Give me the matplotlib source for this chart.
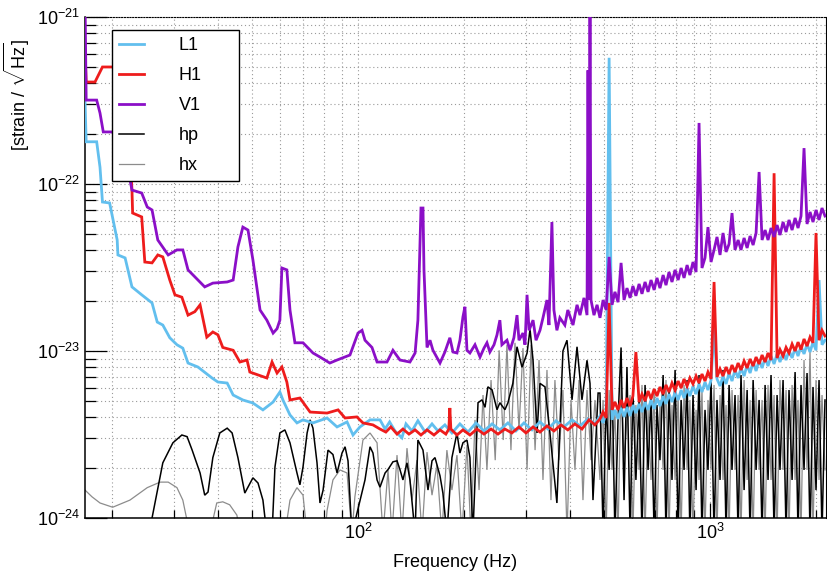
import matplotlib
matplotlib.use("Agg")
import matplotlib.pyplot as plt
import numpy as np
from matplotlib.ticker import FixedLocator, LogLocator, NullFormatter, LogFormatterSciNotation

plt.rcParams["font.family"] = ["Liberation Sans", "DejaVu Sans"]
plt.rcParams["mathtext.fontset"] = "custom"
plt.rcParams["mathtext.rm"] = "Liberation Sans"
plt.rcParams["mathtext.it"] = "Liberation Sans:italic"
plt.rcParams["mathtext.bf"] = "Liberation Sans:bold"

# shared frequency bins (Hz) for the dense high-frequency part of every curve
hf_freq = [487, 497, 507, 517, 527, 537, 548, 559, 570, 581,
           593, 604, 616, 629, 641, 654, 667, 680, 694, 707,
           721, 736, 750, 765, 780, 796, 812, 828, 844, 861,
           877, 895, 913, 931, 949, 968, 987, 1007, 1027, 1047,
           1068, 1089, 1111, 1133, 1155, 1178, 1202, 1225, 1250, 1275,
           1300, 1326, 1352, 1379, 1406, 1434, 1462, 1491, 1521, 1551,
           1581, 1613, 1645, 1677, 1711, 1745, 1779, 1814, 1850, 1887,
           1924, 1962, 2001, 2041, 2081, 2122]

# L1 amplitude spectral density
l1_lo_freq = [16.77, 16.9, 18.1, 18.5, 18.8, 19.7, 20.7, 20.8, 21.8, 22.8,
              24.3, 26.0, 26.9, 27.9, 29.2, 30.6, 31.8, 32.9, 35.1, 38.5,
              40.0, 42.5, 44.2, 47.1, 50.3, 53.7, 57.4, 60.0, 61.2, 64.1,
              67.1, 69.8, 74.5, 81.7, 87.2, 93.1, 96.8, 101.3, 108.2, 115.5,
              119.4, 123, 127.4, 133.3, 136.9, 142.4, 148, 155.2, 162.3, 168.7,
              176.6, 184.9, 194.8, 205.4, 216.4, 228, 240.4, 253, 266.7, 281,
              296.2, 312.2, 328.9, 346.6, 365.2, 384.6, 405.6, 427.3, 450.3, 471.3]
l1_lo_asd = [3.18e-22, 1.79e-22, 1.79e-22, 1.26e-22, 7.8e-23, 7.7e-23, 4.62e-23, 3.76e-23, 3.61e-23, 2.42e-23,
             2.17e-23, 1.94e-23, 1.49e-23, 1.43e-23, 1.2e-23, 1.09e-23, 1.04e-23, 8.47e-24, 8.02e-24, 6.89e-24,
             6.52e-24, 6.43e-24, 5.45e-24, 5.09e-24, 4.88e-24, 4.44e-24, 4.95e-24, 5.68e-24, 5.09e-24, 4.14e-24,
             3.71e-24, 3.87e-24, 3.71e-24, 3.97e-24, 3.51e-24, 3.76e-24, 3.14e-24, 3.51e-24, 3.87e-24, 3.87e-24,
             3.41e-24, 3.76e-24, 3.32e-24, 3.02e-24, 3.66e-24, 3.32e-24, 3.82e-24, 3.27e-24, 3.66e-24, 3.32e-24,
             3.61e-24, 3.23e-24, 3.66e-24, 3.27e-24, 3.71e-24, 3.32e-24, 3.66e-24, 3.37e-24, 3.71e-24, 3.32e-24,
             3.71e-24, 3.37e-24, 3.76e-24, 3.41e-24, 3.82e-24, 3.51e-24, 3.87e-24, 3.56e-24, 3.92e-24, 3.66e-24]
l1_hi_asd = [4.08e-24, 3.71e-24, 4.25e-24, 5.7e-22, 3.87e-24, 4.44e-24, 3.92e-24, 4.56e-24, 4.03e-24, 4.62e-24,
             4.08e-24, 4.75e-24, 4.25e-24, 4.82e-24, 4.31e-24, 4.95e-24, 4.44e-24, 5.09e-24, 4.5e-24, 5.23e-24,
             4.68e-24, 5.37e-24, 4.82e-24, 5.52e-24, 4.95e-24, 5.68e-24, 5.09e-24, 5.84e-24, 5.23e-24, 6.0e-24,
             5.37e-24, 6.17e-24, 5.52e-24, 6.35e-24, 5.68e-24, 6.52e-24, 5.84e-24, 6.7e-24, 1.39e-23, 6.8e-24,
             6.17e-24, 7.08e-24, 6.35e-24, 7.38e-24, 6.61e-24, 7.7e-24, 6.89e-24, 7.91e-24, 7.08e-24, 8.24e-24,
             7.38e-24, 8.59e-24, 7.59e-24, 8.83e-24, 7.91e-24, 9.08e-24, 8.13e-24, 9.33e-24, 8.36e-24, 9.6e-24,
             8.59e-24, 9.86e-24, 8.83e-24, 1.01e-23, 9.08e-24, 1.04e-23, 9.33e-24, 1.07e-23, 9.6e-24, 1.10e-23,
             9.86e-24, 1.13e-23, 1.01e-23, 2.66e-23, 1.09e-23, 1.16e-23]

# H1 amplitude spectral density
h1_lo_freq = [16.77, 16.9, 17.9, 18.8, 20.0, 21.4, 22.5, 22.8, 22.9, 24.3,
              24.8, 26.0, 27.0, 27.9, 29.2, 30.2, 31.6, 32.9, 34.4, 35.6,
              37.2, 38.7, 40.0, 41.3, 44.2, 46.2, 48.4, 49.3, 55.1, 57.0,
              58.9, 60.8, 62.8, 64.1, 68.4, 73.1, 81.7, 87.8, 91.9, 99.3,
              103.3, 110.3, 115.5, 120.0, 124.0, 129.1, 134.2, 139.6, 145.3, 151.0,
              157.1, 164.4, 171.0, 177.7, 181.2, 182.4, 183.6, 191.1, 198.7, 208.0,
              217.8, 228.0, 238.8, 249.9, 261.5, 273.6, 286.7, 300.1, 314.3, 328.9,
              344.3, 360.3, 377.2, 394.6, 413.1, 432.9, 453.2, 471.3]
h1_lo_asd = [6.35e-22, 4.08e-22, 4.08e-22, 5.02e-22, 5.02e-22, 4.82e-22, 1.6e-22, 9.2e-23, 6.7e-23, 6.35e-23,
             3.41e-23, 3.37e-23, 3.76e-23, 3.66e-23, 2.66e-23, 2.17e-23, 2.1e-23, 1.64e-23, 1.72e-23, 1.89e-23,
             1.21e-23, 1.3e-23, 1.25e-23, 1.05e-23, 1.01e-23, 8.59e-24, 8.83e-24, 7.48e-24, 6.89e-24, 8.59e-24,
             7.38e-24, 8.02e-24, 6.52e-24, 5.09e-24, 5.23e-24, 4.31e-24, 4.25e-24, 4.44e-24, 3.97e-24, 4.03e-24,
             3.71e-24, 3.61e-24, 3.41e-24, 3.27e-24, 3.51e-24, 3.18e-24, 3.41e-24, 3.18e-24, 3.37e-24, 3.14e-24,
             3.37e-24, 3.14e-24, 3.37e-24, 3.18e-24, 3.41e-24, 4.56e-24, 3.41e-24, 3.14e-24, 3.37e-24, 3.14e-24,
             3.41e-24, 3.18e-24, 3.41e-24, 3.18e-24, 3.41e-24, 3.23e-24, 3.51e-24, 3.23e-24, 3.51e-24, 3.27e-24,
             3.56e-24, 3.32e-24, 3.61e-24, 3.37e-24, 3.66e-24, 3.41e-24, 3.87e-24, 3.61e-24]
h1_hi_asd = [3.92e-24, 4.31e-24, 3.97e-24, 1.94e-23, 4.44e-24, 4.95e-24, 4.44e-24, 5.09e-24, 4.56e-24, 5.23e-24,
             4.68e-24, 5.37e-24, 9.86e-24, 4.95e-24, 5.52e-24, 5.02e-24, 5.76e-24, 5.16e-24, 5.92e-24, 5.37e-24,
             6.09e-24, 5.52e-24, 6.26e-24, 5.68e-24, 6.43e-24, 5.84e-24, 6.61e-24, 6.0e-24, 6.8e-24, 6.17e-24,
             6.89e-24, 6.35e-24, 7.08e-24, 6.43e-24, 7.28e-24, 6.61e-24, 7.48e-24, 6.8e-24, 2.59e-23, 6.99e-24,
             7.8e-24, 7.08e-24, 8.02e-24, 7.28e-24, 8.24e-24, 7.48e-24, 8.47e-24, 7.7e-24, 8.71e-24, 7.91e-24,
             8.96e-24, 8.13e-24, 9.2e-24, 8.36e-24, 9.46e-24, 8.59e-24, 9.73e-24, 8.83e-24, 1.16e-22, 9.08e-24,
             1.02e-23, 9.33e-24, 1.05e-23, 9.73e-24, 1.10e-23, 1.0e-23, 1.13e-23, 1.02e-23, 1.18e-23, 1.07e-23,
             1.21e-23, 1.12e-23, 5.09e-23, 1.16e-23, 1.33e-23, 1.23e-23]

# V1 amplitude spectral density
v1_lo_freq = [16.77, 16.9, 18.1, 18.5, 18.9, 20.0, 21.2, 22.1, 22.8, 24.3,
              25.2, 26.0, 27.0, 28.9, 30.6, 31.8, 32.9, 34.4, 36.7, 38.7,
              42.5, 44.2, 45.6, 47.1, 48.7, 50.3, 52.7, 55.1, 57.4, 58.9,
              60.0, 60.8, 62.8, 64.1, 66.2, 69.8, 74.5, 78.0, 83.2, 87.2,
              94.9, 100.0, 102.7, 104.7, 109.6, 113.3, 120.9, 125.7, 131.6, 140.5,
              145.3, 148.0, 151.0, 153.0, 154.0, 157.1, 160.2, 163.3, 171.0, 176.6,
              182.4, 186.2, 191.1, 194.8, 198.7, 201.3, 204.0, 208.0, 215.0, 222.2,
              228.0, 232.5, 237.0, 243.5, 248.3, 253.0, 256.4, 265.0, 270.4, 277.3,
              283.0, 286.7, 294.3, 298.2, 302.2, 306.2, 314.3, 320.5, 328.9, 335.4,
              344.3, 348.8, 355.6, 360.3, 367.4, 374.6, 387.0, 394.6, 408.2, 419.1,
              427.3, 438.6, 447.4, 450.3, 453.2, 456.2, 459.2, 468.2, 477.8]
v1_lo_asd = [1.3e-21, 3.18e-22, 3.18e-22, 2.66e-22, 2.05e-22, 2.05e-22, 1.84e-22, 1.3e-22, 9.2e-23, 8.83e-23,
             7.28e-23, 6.99e-23, 4.62e-23, 3.76e-23, 4.03e-23, 4.03e-23, 3.06e-23, 2.78e-23, 2.42e-23, 2.55e-23,
             2.59e-23, 2.66e-23, 4.2e-23, 5.52e-23, 5.3e-23, 3.51e-23, 1.76e-23, 1.53e-23, 1.28e-23, 1.36e-23,
             1.53e-23, 3.14e-23, 3.06e-23, 1.76e-23, 1.12e-23, 1.12e-23, 9.73e-24, 9.2e-24, 8.47e-24, 8.83e-24,
             9.46e-24, 1.28e-23, 1.33e-23, 1.16e-23, 1.05e-23, 8.59e-24, 8.59e-24, 1.01e-23, 8.83e-24, 8.59e-24,
             9.73e-24, 1.53e-23, 7.18e-23, 7.18e-23, 3.06e-23, 1.05e-23, 1.16e-23, 1.01e-23, 8.47e-24, 9.86e-24,
             1.2e-23, 9.86e-24, 9.73e-24, 1.16e-23, 1.6e-23, 1.84e-23, 1.01e-23, 9.73e-24, 1.09e-23, 9.2e-24,
             1.04e-23, 1.12e-23, 9.86e-24, 1.09e-23, 1.25e-23, 1.53e-23, 1.09e-23, 1.16e-23, 1.01e-23, 1.2e-23,
             1.64e-23, 1.16e-23, 1.28e-23, 1.09e-23, 2.17e-23, 1.33e-23, 1.53e-23, 1.16e-23, 1.33e-23, 1.58e-23,
             2.02e-23, 1.43e-23, 5.92e-23, 1.76e-23, 1.33e-23, 1.58e-23, 1.43e-23, 1.76e-23, 1.43e-23, 1.89e-23,
             1.64e-23, 2.08e-23, 1.64e-23, 4.8e-22, 2.02e-23, 1.3e-21, 2.02e-23, 1.64e-23, 1.89e-23]
v1_hi_asd = [1.58e-23, 2.02e-23, 1.76e-23, 3.66e-23, 1.89e-23, 2.26e-23, 1.96e-23, 3.37e-23, 2.02e-23, 2.38e-23,
             2.08e-23, 2.45e-23, 2.14e-23, 2.52e-23, 2.2e-23, 2.59e-23, 2.26e-23, 2.66e-23, 2.32e-23, 2.74e-23,
             2.38e-23, 2.85e-23, 2.48e-23, 2.97e-23, 2.59e-23, 3.06e-23, 2.66e-23, 3.14e-23, 2.74e-23, 3.27e-23,
             2.85e-23, 3.41e-23, 2.97e-23, 2.32e-22, 3.14e-23, 3.61e-23, 5.52e-23, 3.41e-23, 4.03e-23, 4.82e-23,
             3.76e-23, 5.09e-23, 3.92e-23, 4.37e-23, 6.7e-23, 4.03e-23, 4.62e-23, 4.03e-23, 4.75e-23, 4.14e-23,
             4.88e-23, 4.31e-23, 5.09e-23, 1.18e-22, 4.62e-23, 5.3e-23, 4.62e-23, 5.45e-23, 4.82e-23, 5.68e-23,
             4.95e-23, 5.92e-23, 5.16e-23, 6.09e-23, 5.3e-23, 6.26e-23, 5.45e-23, 6.43e-23, 1.64e-22, 5.76e-23,
             6.8e-23, 5.92e-23, 6.99e-23, 6.09e-23, 7.18e-23, 6.43e-23]

# plus polarisation of the injected signal
hp_lo_freq = [25.6, 26.0, 27.9, 29.8, 31.6, 32.7, 33.8, 35.6, 36.7, 37.5,
              38.7, 40.5, 42.5, 43.9, 45.6, 47.7, 48.7, 50.3, 52.0, 53.7,
              55.1, 57.0, 58.1, 60.0, 62.0, 64.1, 67.1, 68.4, 69.8, 71.7,
              73.1, 74.5, 76.5, 78.0, 79.6, 82.2, 84.9, 87.2, 90.1, 91.9,
              93.7, 96.1, 104.7, 108.2, 110.3, 113.3, 115.5, 119.4, 121.7, 125.7,
              129.1, 131.6, 134.2, 137.8, 140.5, 145.3, 148.0, 153.0, 158.1, 162.3,
              165.5, 171.0, 174.3, 178.9, 184.9, 191.1, 194.8, 198.7, 204.0, 208.0,
              212.1, 219.3, 225.1, 229.6, 233.9, 240.4, 248.3, 253.0, 261.5, 266.7,
              275.4, 283.0, 292.4, 302.2, 308.2, 314.3, 322.6, 328.9, 339.8, 351.0,
              367.4, 382.2, 392.5, 405.6, 419.1, 432.9, 447.4, 456.2, 465.2, 481.0]
hp_lo_asd = [8e-25, 1.0e-24, 2.14e-24, 2.82e-24, 3.14e-24, 3.07e-24, 2.55e-24, 1.86e-24, 1.37e-24, 1.43e-24,
             2.3e-24, 3.23e-24, 3.45e-24, 3.23e-24, 2.3e-24, 1.41e-24, 1.53e-24, 1.74e-24, 1.62e-24, 1.28e-24,
             8e-25, 8e-25, 2.02e-24, 3.23e-24, 3.37e-24, 2.82e-24, 1.86e-24, 1.58e-24, 2.02e-24, 3.23e-24,
             3.87e-24, 3.45e-24, 2.14e-24, 1.23e-24, 1.47e-24, 2.55e-24, 2.4e-24, 1.86e-24, 2.45e-24, 2.67e-24,
             2.2e-24, 8e-25, 1.69e-24, 2.67e-24, 2.45e-24, 1.69e-24, 1.53e-24, 1.86e-24, 1.95e-24, 2.17e-24,
             2.2e-24, 1.95e-24, 1.69e-24, 2.14e-24, 1.69e-24, 8e-25, 2.93e-24, 2.55e-24, 1.47e-24, 2.2e-24,
             2.3e-24, 1.79e-24, 1.41e-24, 8e-25, 2.3e-24, 3.23e-24, 2.45e-24, 2.82e-24, 2.93e-24, 2.3e-24,
             8e-25, 4.9e-24, 5.1e-24, 4.6e-24, 6.1e-24, 5.85e-24, 4.45e-24, 4.9e-24, 4.45e-24, 4.9e-24,
             6.4e-24, 1.06e-23, 8.0e-24, 9.7e-24, 1.35e-23, 8.8e-24, 3.23e-24, 6.4e-24, 6.1e-24, 3.23e-24,
             1.23e-24, 1.0e-23, 1.16e-23, 5.1e-24, 1.06e-23, 5.1e-24, 8.8e-24, 6.4e-24, 1.28e-24, 5.6e-24]
hp_hi_asd = [5.6e-24, 8e-25, 5.09e-24, 1.94e-24, 6.7e-24, 8e-25, 3.87e-24, 1.05e-23, 1.28e-24, 8.02e-24,
             8e-25, 5.84e-24, 1.69e-24, 5.09e-24, 8e-25, 6.26e-24, 1.94e-24, 5.45e-24, 8e-25, 4.75e-24,
             2.22e-24, 7.18e-24, 8e-25, 5.84e-24, 1.69e-24, 7.7e-24, 8e-25, 5.09e-24, 1.94e-24, 6.7e-24,
             8e-25, 5.45e-24, 1.47e-24, 7.18e-24, 8e-25, 4.44e-24, 1.94e-24, 6.7e-24, 8e-25, 5.09e-24,
             1.69e-24, 7.7e-24, 8e-25, 6.26e-24, 1.94e-24, 5.45e-24, 8e-25, 7.18e-24, 1.47e-24, 5.84e-24,
             8e-25, 6.7e-24, 1.94e-24, 5.09e-24, 8e-25, 6.26e-24, 1.69e-24, 7.18e-24, 8e-25, 5.45e-24,
             1.94e-24, 6.7e-24, 8e-25, 5.84e-24, 1.69e-24, 7.48e-24, 8e-25, 6.26e-24, 1.94e-24, 7.38e-24,
             8e-25, 6.09e-24, 1.47e-24, 6.7e-24, 8e-25, 5.09e-24]

# cross polarisation of the injected signal
hx_lo_freq = [16.77, 17.55, 18.5, 20.1, 22.5, 25.2, 27.4, 28.9, 30.6, 31.8,
              33.3, 37.9, 39.7, 41.3, 43.2, 45.3, 46.2, 62.0, 64.1, 67.1,
              69.8, 71.7, 80.6, 81.7, 84.9, 88.9, 93.1, 96.1, 98.0, 103.3,
              108.2, 113.3, 117.8, 121.7, 124.9, 129.1, 133.3, 137.8, 142.4, 147.1,
              152.0, 157.1, 162.3, 167.6, 173.1, 178.9, 184.9, 191.1, 197.4, 204.0,
              209.3, 215.0, 220.8, 226.6, 232.5, 238.8, 245.4, 251.8, 258.6, 265.0,
              272.0, 279.3, 286.7, 294.3, 302.2, 310.3, 318.5, 326.9, 335.4, 344.3,
              353.4, 362.7, 372.2, 382.2, 392.5, 403.0, 413.5, 424.6, 435.7, 447.4,
              459.2, 471.3]
hx_lo_asd = [1.47e-24, 1.34e-24, 1.23e-24, 1.16e-24, 1.28e-24, 1.52e-24, 1.64e-24, 1.64e-24, 1.52e-24, 1.28e-24,
             8e-25, 8e-25, 1.23e-24, 1.25e-24, 1.2e-24, 1.04e-24, 8e-25, 8e-25, 1.28e-24, 1.52e-24,
             1.37e-24, 8e-25, 8e-25, 1.11e-24, 1.69e-24, 1.94e-24, 1.86e-24, 8e-25, 1.34e-24, 2.93e-24,
             3.23e-24, 2.82e-24, 8e-25, 1.94e-24, 8e-25, 2.38e-24, 8e-25, 2.62e-24, 1.28e-24, 2.22e-24,
             8e-25, 2.48e-24, 1.37e-24, 2.08e-24, 8e-25, 2.55e-24, 1.47e-24, 2.38e-24, 8e-25, 2.74e-24,
             8e-25, 3.87e-24, 1.47e-24, 5.45e-24, 1.94e-24, 6.7e-24, 2.22e-24, 1.01e-23, 2.93e-24, 1.09e-23,
             2.55e-24, 1.12e-23, 3.37e-24, 1.04e-23, 1.94e-24, 1.09e-23, 2.55e-24, 8.83e-24, 1.69e-24, 7.7e-24,
             1.28e-24, 6.7e-24, 2.22e-24, 5.84e-24, 8e-25, 5.09e-24, 1.94e-24, 6.7e-24, 1.28e-24, 5.84e-24,
             2.22e-24, 5.09e-24]
hx_hi_asd = [1.69e-24, 5.09e-24, 8e-25, 5.84e-24, 1.94e-24, 4.44e-24, 8e-25, 6.7e-24, 2.22e-24, 3.87e-24,
             5.45e-24, 8e-25, 4.75e-24, 1.94e-24, 6.26e-24, 8e-25, 4.44e-24, 1.69e-24, 5.84e-24, 8e-25,
             5.09e-24, 1.94e-24, 6.7e-24, 8e-25, 4.75e-24, 1.69e-24, 5.45e-24, 8e-25, 6.26e-24, 1.94e-24,
             5.09e-24, 8e-25, 4.44e-24, 1.69e-24, 5.84e-24, 8e-25, 5.09e-24, 1.94e-24, 6.26e-24, 8e-25,
             5.45e-24, 1.69e-24, 4.75e-24, 8e-25, 5.84e-24, 1.94e-24, 5.45e-24, 8e-25, 6.7e-24, 1.69e-24,
             5.09e-24, 8e-25, 5.84e-24, 1.94e-24, 5.09e-24, 8e-25, 6.26e-24, 1.69e-24, 5.45e-24, 8e-25,
             6.7e-24, 1.94e-24, 5.84e-24, 8e-25, 6.26e-24, 1.69e-24, 5.09e-24, 8e-25, 8.83e-24, 1.94e-24,
             1.01e-23, 8e-25, 6.7e-24, 1.69e-24, 5.45e-24, 1.94e-24]

series = [
    ("L1", l1_lo_freq, l1_lo_asd, l1_hi_asd, "#62bfee", 2.0, 3),
    ("H1", h1_lo_freq, h1_lo_asd, h1_hi_asd, "#ee1c1c", 2.0, 4),
    ("V1", v1_lo_freq, v1_lo_asd, v1_hi_asd, "#8b0fc7", 2.0, 5),
    ("hp", hp_lo_freq, hp_lo_asd, hp_hi_asd, "black", 1.1, 2.5),
    ("hx", hx_lo_freq, hx_lo_asd, hx_hi_asd, "#8c8c8c", 0.9, 2),
]

fig = plt.figure(figsize=(8.27, 5.74), dpi=100)
ax = fig.add_axes([85 / 827, 56 / 574, 741 / 827, 501 / 574])

for name, lo_f, lo_a, hi_a, color, lw, z in series:
    freq = np.concatenate([lo_f, hf_freq])
    asd = np.concatenate([lo_a, hi_a])
    ax.plot(freq, asd, color=color, lw=lw, label=name, zorder=z,
            solid_joinstyle="miter")

ax.set_xscale("log")
ax.set_yscale("log")
ax.set_xlim(16.77, 2136)
ax.set_ylim(1e-24, 1e-21)

ax.xaxis.set_major_locator(FixedLocator([1e2, 1e3]))
ax.yaxis.set_major_locator(FixedLocator([1e-24, 1e-23, 1e-22, 1e-21]))
ax.xaxis.set_major_formatter(LogFormatterSciNotation())
ax.yaxis.set_major_formatter(LogFormatterSciNotation())
ax.xaxis.set_minor_locator(LogLocator(base=10, subs=np.arange(2, 10)))
ax.yaxis.set_minor_locator(LogLocator(base=10, subs=np.arange(2, 10)))
ax.xaxis.set_minor_formatter(NullFormatter())
ax.yaxis.set_minor_formatter(NullFormatter())

ax.grid(True, which="both", ls=(0, (1, 2.5)), color="#9a9a9a", lw=0.8)
ax.set_axisbelow(True)

ax.tick_params(which="both", direction="in", top=False, right=False,
               labelsize=13, width=0.9)
ax.tick_params(axis="y", which="major", length=16)
ax.tick_params(axis="y", which="minor", length=8)
ax.tick_params(axis="x", which="major", length=11)
ax.tick_params(axis="x", which="minor", length=6)

ax.spines["top"].set_linestyle((0, (1, 1.5)))
ax.spines["top"].set_linewidth(0.8)
ax.spines["right"].set_linewidth(0.8)
ax.spines["left"].set_linewidth(1.1)
ax.spines["bottom"].set_linewidth(1.1)

ax.set_xlabel("Frequency (Hz)", fontsize=13)
ax.xaxis.set_label_coords(0.5, -0.072)
ax.set_ylabel(r"[strain / $\sqrt{\mathrm{Hz}}$]", fontsize=13)
ax.yaxis.set_label_coords(-0.072, 0.844)

leg = ax.legend(loc="upper left", bbox_to_anchor=(0.0364, 0.663, 0.1714, 0.311),
                mode="expand", borderaxespad=0, fancybox=False, framealpha=1,
                edgecolor="black", fontsize=13, handlelength=1.4,
                handletextpad=1.9, labelspacing=0.72, borderpad=0.4)
leg.get_frame().set_linewidth(1.0)
leg.set_zorder(10)

fig.savefig("out.png", dpi=100)
